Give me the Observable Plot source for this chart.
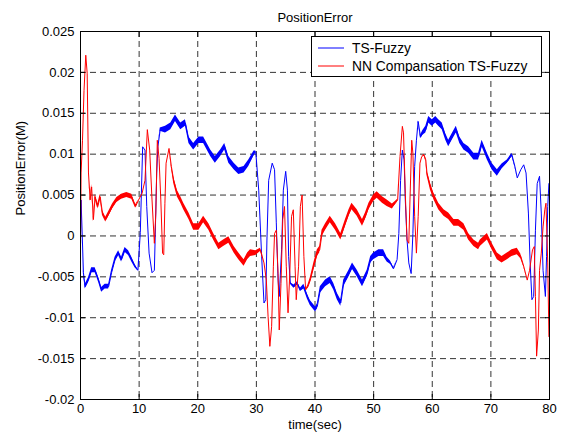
<!DOCTYPE html>
<html><head><meta charset="utf-8">
<script src="https://cdn.jsdelivr.net/npm/d3@7"></script>
<script src="https://cdn.jsdelivr.net/npm/@observablehq/plot@0.6"></script>
<style>body{margin:0;background:#fff;}</style>
</head><body><div id="chart"></div>
<script>
// ---- data ----
const seriesNames = ["TS-Fuzzy", "NN Compansation TS-Fuzzy"];
const seriesColors = ["#0000ff", "#ff0000"];
const xTicks = [0, 10, 20, 30, 40, 50, 60, 70, 80];
const yTicks = [-0.02, -0.015, -0.01, -0.005, 0, 0.005, 0.01, 0.015, 0.02, 0.025];

// TS-Fuzzy: time, value, half-width of the noisy band
const blueT = [0,0.1,0.5,0.8,1.36,1.9,2.5,3.1,3.6,4.2,4.8,5.3,5.9,6.5,7.0,7.6,8.2,8.75,9.3,9.8,10.2,10.6,11.0,11.3,11.7,12.2,12.6,13.0,13.2,13.6,14.5,15.4,16.2,17.1,17.9,18.5,19.3,20.2,21.0,22.2,23.0,23.9,24.6,25.3,26.2,27.0,27.9,28.7,29.6,29.9,30.4,30.9,31.3,31.6,31.8,32.1,32.7,33.1,33.4,33.7,33.9,34.3,34.6,35.0,35.3,35.5,35.8,36.4,37.0,37.5,38.1,38.7,39.2,40.1,40.4,40.9,41.8,42.6,43.2,43.8,44.4,44.9,45.8,46.4,47.2,48.1,48.9,49.5,50.0,50.9,51.7,52.3,52.9,53.4,54.0,54.3,54.6,54.9,55.2,55.4,55.7,56.0,56.4,56.7,57.0,57.3,57.6,58.0,58.4,58.9,59.4,60.0,60.6,61.1,61.7,62.3,62.8,63.4,64.1,64.7,65.4,66.2,67.1,67.9,68.5,69.4,70.2,71.1,71.9,72.8,73.6,74.1,74.5,75.1,75.6,76.0,76.4,76.7,77.0,77.3,77.6,77.9,78.3,78.6,78.9,79.3,79.5,79.7,79.9];
const blueV = [0,0.0044,-0.0045,-0.0062,-0.0054,-0.0042,-0.0042,-0.0054,-0.0066,-0.0062,-0.0062,-0.0045,-0.0029,-0.0021,-0.0029,-0.0017,-0.0021,-0.0029,-0.0037,-0.0042,0.0004,0.0109,0.0105,0.0036,-0.0021,-0.0045,-0.0042,0.0077,0.0109,0.013,0.013,0.0134,0.0144,0.0134,0.0138,0.0117,0.0109,0.0117,0.0117,0.0101,0.0093,0.0101,0.0109,0.0093,0.0085,0.0079,0.0081,0.0089,0.0101,0.0103,0.0056,-0.0025,-0.0082,-0.0078,-0.0005,0.0068,0.0089,0.0081,0.0016,-0.0054,-0.0074,-0.0017,0.0056,0.0079,0.0056,-0.0025,-0.0058,-0.0062,-0.0058,-0.0066,-0.0062,-0.0074,-0.0082,-0.009,-0.0086,-0.0066,-0.0058,-0.0054,-0.0062,-0.0074,-0.0082,-0.0058,-0.0046,-0.0037,-0.0046,-0.0058,-0.0046,-0.0029,-0.0025,-0.0021,-0.0021,-0.0029,-0.0033,-0.004,-0.0029,0.0003,0.0068,0.0105,0.0093,0.0044,-0.0005,-0.0033,-0.0046,0.0003,0.0085,0.0117,0.014,0.0121,0.0126,0.013,0.0142,0.0138,0.0142,0.0138,0.0134,0.0121,0.0113,0.0121,0.013,0.0117,0.0109,0.0105,0.0097,0.0097,0.0113,0.0097,0.0085,0.0077,0.0085,0.0091,0.0099,0.0085,0.0071,0.0081,0.0087,0.0077,0.0028,-0.0033,-0.0078,-0.0074,0.0007,0.0064,0.0073,0.0028,-0.0042,-0.0074,-0.0025,0.0036,0.0064];
const blueW = [0,0,0.0002,0.0003,0.0003,0.0003,0.0003,0.0003,0.0003,0.0003,0.0003,0.0003,0.0003,0.0003,0.0003,0.0003,0.0003,0.0003,0.0002,0.0001,0,0,0,0,0,0,0,0,0,0.0002,0.0004,0.0004,0.0004,0.0004,0.0004,0.0004,0.0004,0.0004,0.0004,0.0004,0.0004,0.0004,0.0004,0.0004,0.0004,0.0004,0.0004,0.0004,0.0003,0.0001,0,0,0,0,0,0,0,0,0,0,0,0,0,0,0,0,0.0001,0.0002,0.0002,0.0002,0.0003,0.0003,0.0003,0.0003,0.0003,0.0004,0.0004,0.0004,0.0004,0.0004,0.0004,0.0004,0.0004,0.0004,0.0004,0.0004,0.0004,0.0004,0.0004,0.0004,0.0004,0.0003,0.0002,0.0001,0,0,0,0,0,0,0,0,0,0,0,0,0.0001,0.0002,0.0003,0.0004,0.0004,0.0004,0.0004,0.0004,0.0004,0.0004,0.0004,0.0004,0.0004,0.0004,0.0004,0.0004,0.0004,0.0004,0.0004,0.0004,0.0004,0.0004,0.0003,0.0002,0.0002,0.0001,0,0,0,0,0,0,0,0,0,0,0,0,0,0,0,0,0,0];

// NN Compansation TS-Fuzzy
const redT = [0,0.1,0.34,0.6,0.9,1.14,1.36,1.65,1.9,2.2,2.5,2.95,3.36,3.75,4.3,4.9,5.46,6.2,7.0,7.9,8.75,9.4,9.9,10.5,11.0,11.4,11.8,12.2,12.6,12.85,13.1,13.4,13.7,14.0,14.2,14.4,14.6,15.1,15.5,15.9,16.5,17.1,17.6,18.5,19.3,20.2,21.0,21.9,22.7,23.6,24.4,25.3,26.2,27.0,27.9,28.5,29.0,29.9,30.7,31.3,31.7,32.0,32.3,32.6,32.9,33.1,33.4,33.7,33.9,34.2,34.5,34.8,35.1,35.4,35.7,36.0,36.3,36.6,36.8,37.2,37.5,37.8,38.1,38.4,38.8,39.2,39.8,40.4,40.8,41.2,41.8,42.6,43.5,44.4,45.2,45.8,46.3,47.2,48.1,48.6,49.2,50.0,50.6,51.5,52.3,53.2,53.7,54.1,54.5,54.9,55.1,55.4,55.7,56.0,56.2,56.5,56.7,57.0,57.3,57.6,57.9,58.2,58.6,58.9,59.1,59.7,60.3,61.1,62.0,62.8,63.7,64.5,65.4,66.2,67.1,67.9,68.2,69.4,70.2,71.1,71.9,72.8,73.6,74.5,75.1,75.6,76.2,76.6,77.1,77.4,77.6,77.8,78.1,78.3,78.6,78.9,79.2,79.4,79.7,79.9];
const redV = [-0.0013,0.0077,0.0117,0.0178,0.0221,0.0199,0.0077,0.0044,0.006,0.002,0.0048,0.0036,0.0048,0.0028,0.002,0.0028,0.0036,0.0044,0.0048,0.005,0.0048,0.0036,0.0044,0.0052,0.0068,0.013,0.0105,0.0044,-0.0009,0.0028,0.0117,0.0095,0.0044,-0.0021,-0.0023,0.004,0.0089,0.0107,0.0085,0.0068,0.0052,0.0044,0.0036,0.0024,0.0011,0.0011,0.002,0.0011,-0.0001,-0.0013,-0.0009,-0.0005,-0.0017,-0.0025,-0.0033,-0.0025,-0.0021,-0.0021,-0.0017,-0.0033,-0.0054,-0.0099,-0.0135,-0.0111,-0.0037,0.0003,0.0007,-0.0046,-0.0115,-0.0058,0.002,0.0036,-0.0037,-0.0094,-0.0046,0.0024,0.0032,-0.0037,-0.0078,-0.0037,0.0036,0.005,-0.0025,-0.0066,-0.0062,-0.0054,-0.0037,-0.0021,-0.0017,0.0003,0.0011,0.002,0.0011,-0.0001,0.0016,0.0028,0.0036,0.0028,0.0016,0.0024,0.0036,0.0046,0.005,0.0044,0.004,0.0036,0.004,0.0044,0.0097,0.0134,0.0126,0.0052,-0.0005,-0.0009,0.0044,0.0117,0.0101,0.0024,-0.0021,0.0024,0.0089,0.0097,0.0099,0.0093,0.0077,0.006,0.0048,0.0036,0.0028,0.0024,0.0016,0.0016,0.0011,-0.0001,-0.0009,-0.0013,-0.0009,-0.0001,-0.0013,-0.0025,-0.0029,-0.0025,-0.0021,-0.0019,-0.0025,-0.0037,-0.0054,-0.0042,-0.0017,-0.0013,-0.0074,-0.0147,-0.0115,-0.0042,-0.0021,0.0011,0.0032,0.004,-0.0033,-0.0123];
const redW = [0,0,0,0,0,0,0,0.0002,0.0003,0.0003,0.0003,0.0003,0.0003,0.0003,0.0003,0.0003,0.0003,0.0003,0.0003,0.0003,0.0003,0.0002,0,0,0,0,0,0,0,0,0,0,0,0,0,0,0,0,0.0002,0.0004,0.0004,0.0004,0.0004,0.0004,0.0004,0.0004,0.0004,0.0004,0.0004,0.0004,0.0004,0.0004,0.0004,0.0004,0.0004,0.0004,0.0004,0.0003,0.0002,0,0,0,0,0,0,0,0,0,0,0,0,0,0,0,0,0,0,0,0,0,0,0,0,0,0.0002,0.0003,0.0004,0.0004,0.0004,0.0004,0.0004,0.0004,0.0004,0.0004,0.0004,0.0004,0.0004,0.0004,0.0004,0.0004,0.0004,0.0004,0.0004,0.0004,0.0004,0.0003,0.0002,0.0001,0,0,0,0,0,0,0,0,0,0,0,0,0,0,0.0001,0.0002,0.0003,0.0004,0.0004,0.0004,0.0004,0.0004,0.0004,0.0004,0.0004,0.0004,0.0004,0.0004,0.0004,0.0004,0.0004,0.0004,0.0004,0.0004,0.0004,0.0004,0.0003,0.0001,0,0,0,0,0,0,0,0,0,0,0,0,0,0];

const titleText = "PositionError";
const xLabel = "time(sec)";
const yLabel = "PositionError(M)";

// ---- build ----
function rows(T, V, W) {
  return T.map((t, i) => ({t, v: V[i], lo: V[i] - W[i], hi: V[i] + W[i]}));
}
const blue = rows(blueT, blueV, blueW);
const red = rows(redT, redV, redW);
const fmt = d => d === 0 ? "0" : String(+d.toFixed(3));
const font = "Arial, 'Liberation Sans', Helvetica, sans-serif";

const plot = Plot.plot({
  width: 561, height: 439,
  marginLeft: 80, marginRight: 12, marginTop: 31, marginBottom: 40,
  style: {fontFamily: font, fontSize: "13px", background: "#fff", color: "#000", overflow: "visible"},
  x: {domain: [0, 80]},
  y: {domain: [-0.02, 0.025]},
  marks: [
    Plot.gridX(xTicks, {stroke: "#000", strokeOpacity: 0.8, strokeDasharray: "6,4"}),
    Plot.gridY(yTicks, {stroke: "#000", strokeOpacity: 0.8, strokeDasharray: "6,4"}),
    Plot.areaY(blue, {x: "t", y1: "lo", y2: "hi", fill: seriesColors[0]}),
    Plot.line(blue, {x: "t", y: "v", stroke: seriesColors[0], strokeWidth: 1}),
    Plot.areaY(red, {x: "t", y1: "lo", y2: "hi", fill: seriesColors[1]}),
    Plot.line(red, {x: "t", y: "v", stroke: seriesColors[1], strokeWidth: 1}),
    Plot.frame({stroke: "#000", strokeWidth: 1}),
    Plot.axisX(xTicks, {anchor: "bottom", tickSize: -5, tickPadding: 9, tickFormat: fmt, label: null}),
    Plot.axisX(xTicks, {anchor: "top", tickSize: -5, tickFormat: () => "", label: null}),
    Plot.axisY(yTicks, {anchor: "left", tickSize: -5, tickPadding: 11, tickFormat: fmt, label: null}),
    Plot.axisY(yTicks, {anchor: "right", tickSize: -5, tickFormat: () => "", label: null}),
    Plot.text([titleText], {frameAnchor: "top", dy: -19, fontSize: 13}),
    Plot.text([xLabel], {frameAnchor: "bottom", dy: 29, fontSize: 13}),
    Plot.text([yLabel], {frameAnchor: "left", dx: -60, rotate: -90, fontSize: 13})
  ]
});

// legend box (drawn in pixels, like MATLAB's legend)
const svg = d3.select(plot);
const lg = svg.append("g").attr("font-family", font).attr("font-size", 13.8).attr("text-anchor", "start");
lg.append("rect").attr("x", 311.5).attr("y", 36.5).attr("width", 230).attr("height", 40)
  .attr("fill", "#fff").attr("stroke", "#000");
seriesNames.forEach((name, i) => {
  const yy = 48 + i * 18;
  lg.append("line").attr("x1", 318).attr("x2", 344).attr("y1", yy).attr("y2", yy)
    .attr("stroke", seriesColors[i]).attr("stroke-width", 1);
  lg.append("text").attr("x", 352).attr("y", yy).attr("dy", "0.35em")
    .attr("text-anchor", "start").attr("fill", "#000").text(name);
});

document.getElementById("chart").appendChild(plot);
</script>
</body></html>
